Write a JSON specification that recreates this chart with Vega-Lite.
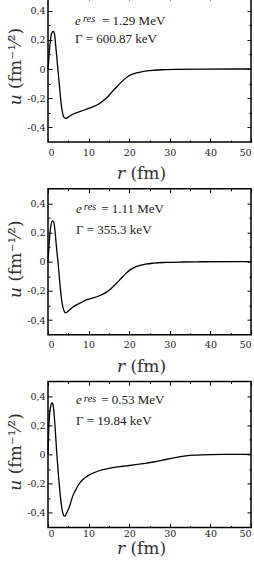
{
  "$schema": "https://vega.github.io/schema/vega-lite/v6.json",
  "padding": {"left": 5, "top": -6, "right": 0, "bottom": 0},
  "background": "white",
  "datasets": {
    "curves": [
      {"panel":1,"r":0,"u":0},{"panel":1,"r":0.25,"u":0.09},{"panel":1,"r":0.5,"u":0.175},{"panel":1,"r":0.8,"u":0.235},{"panel":1,"r":1.1,"u":0.255},{"panel":1,"r":1.35,"u":0.258},{"panel":1,"r":1.6,"u":0.24},{"panel":1,"r":1.9,"u":0.16},{"panel":1,"r":2.2,"u":0.07},{"panel":1,"r":2.5,"u":-0.02},{"panel":1,"r":2.8,"u":-0.11},{"panel":1,"r":3.1,"u":-0.2},{"panel":1,"r":3.4,"u":-0.27},{"panel":1,"r":3.7,"u":-0.315},{"panel":1,"r":4.0,"u":-0.333},{"panel":1,"r":4.4,"u":-0.338},{"panel":1,"r":4.8,"u":-0.333},{"panel":1,"r":5.5,"u":-0.32},{"panel":1,"r":6.5,"u":-0.305},{"panel":1,"r":8,"u":-0.29},{"panel":1,"r":9.5,"u":-0.275},{"panel":1,"r":11,"u":-0.26},{"panel":1,"r":12.5,"u":-0.24},{"panel":1,"r":13.5,"u":-0.22},{"panel":1,"r":14.5,"u":-0.197},{"panel":1,"r":15.5,"u":-0.165},{"panel":1,"r":16.5,"u":-0.135},{"panel":1,"r":17.5,"u":-0.105},{"panel":1,"r":18.5,"u":-0.078},{"panel":1,"r":19.5,"u":-0.055},{"panel":1,"r":20.5,"u":-0.039},{"panel":1,"r":21.5,"u":-0.029},{"panel":1,"r":23,"u":-0.019},{"panel":1,"r":25,"u":-0.011},{"panel":1,"r":28,"u":-0.005},{"panel":1,"r":32,"u":-0.002},{"panel":1,"r":38,"u":-0.0005},{"panel":1,"r":50,"u":0},
      {"panel":2,"r":0,"u":0},{"panel":2,"r":0.25,"u":0.11},{"panel":2,"r":0.5,"u":0.2},{"panel":2,"r":0.8,"u":0.26},{"panel":2,"r":1.1,"u":0.28},{"panel":2,"r":1.4,"u":0.272},{"panel":2,"r":1.7,"u":0.22},{"panel":2,"r":2.0,"u":0.125},{"panel":2,"r":2.3,"u":0.04},{"panel":2,"r":2.5,"u":-0.01},{"panel":2,"r":2.8,"u":-0.11},{"panel":2,"r":3.1,"u":-0.2},{"panel":2,"r":3.4,"u":-0.27},{"panel":2,"r":3.7,"u":-0.315},{"panel":2,"r":4.1,"u":-0.345},{"panel":2,"r":4.4,"u":-0.35},{"panel":2,"r":4.8,"u":-0.343},{"panel":2,"r":5.4,"u":-0.328},{"panel":2,"r":6.2,"u":-0.31},{"panel":2,"r":7,"u":-0.296},{"panel":2,"r":8,"u":-0.282},{"panel":2,"r":9.4,"u":-0.262},{"panel":2,"r":11,"u":-0.25},{"panel":2,"r":12.5,"u":-0.235},{"panel":2,"r":14,"u":-0.215},{"panel":2,"r":15.5,"u":-0.185},{"panel":2,"r":16.7,"u":-0.153},{"panel":2,"r":18,"u":-0.115},{"panel":2,"r":19.2,"u":-0.08},{"panel":2,"r":20.2,"u":-0.056},{"panel":2,"r":21.2,"u":-0.04},{"panel":2,"r":22.5,"u":-0.027},{"panel":2,"r":24,"u":-0.017},{"panel":2,"r":26,"u":-0.01},{"panel":2,"r":29,"u":-0.005},{"panel":2,"r":33,"u":-0.002},{"panel":2,"r":38,"u":-0.0005},{"panel":2,"r":50,"u":0},
      {"panel":3,"r":0,"u":0},{"panel":3,"r":0.16,"u":0.15},{"panel":3,"r":0.33,"u":0.25},{"panel":3,"r":0.6,"u":0.32},{"panel":3,"r":0.9,"u":0.35},{"panel":3,"r":1.1,"u":0.352},{"panel":3,"r":1.35,"u":0.32},{"panel":3,"r":1.64,"u":0.23},{"panel":3,"r":1.9,"u":0.12},{"panel":3,"r":2.13,"u":0.02},{"panel":3,"r":2.4,"u":-0.08},{"panel":3,"r":2.63,"u":-0.16},{"panel":3,"r":2.95,"u":-0.26},{"panel":3,"r":3.28,"u":-0.342},{"panel":3,"r":3.6,"u":-0.395},{"panel":3,"r":3.9,"u":-0.42},{"panel":3,"r":4.15,"u":-0.423},{"panel":3,"r":4.45,"u":-0.41},{"panel":3,"r":4.8,"u":-0.39},{"panel":3,"r":5.25,"u":-0.36},{"panel":3,"r":5.7,"u":-0.32},{"panel":3,"r":6.1,"u":-0.285},{"panel":3,"r":6.7,"u":-0.25},{"panel":3,"r":7.3,"u":-0.218},{"panel":3,"r":8.0,"u":-0.19},{"panel":3,"r":8.6,"u":-0.172},{"panel":3,"r":9.4,"u":-0.155},{"panel":3,"r":10.2,"u":-0.14},{"panel":3,"r":11.2,"u":-0.127},{"panel":3,"r":12.6,"u":-0.112},{"panel":3,"r":14,"u":-0.102},{"panel":3,"r":16,"u":-0.091},{"panel":3,"r":18,"u":-0.083},{"panel":3,"r":20,"u":-0.076},{"panel":3,"r":22,"u":-0.069},{"panel":3,"r":24,"u":-0.061},{"panel":3,"r":26,"u":-0.052},{"panel":3,"r":28,"u":-0.041},{"panel":3,"r":30,"u":-0.029},{"panel":3,"r":32,"u":-0.018},{"panel":3,"r":34,"u":-0.01},{"panel":3,"r":36,"u":-0.005},{"panel":3,"r":40,"u":-0.001},{"panel":3,"r":45,"u":0},{"panel":3,"r":50,"u":0}
    ],
    "notes": [
      {"panel":1,"line":"sym","r":6.65,"u":0.301,"t":"e"},
      {"panel":1,"line":"sup","r":8.6,"u":0.324,"t":"res"},
      {"panel":1,"line":"val","r":13.3,"u":0.301,"t":"= 1.29 MeV"},
      {"panel":1,"line":"val","r":6.65,"u":0.175,"t":"Γ = 600.87 keV"},
      {"panel":2,"line":"sym","r":6.9,"u":0.331,"t":"e"},
      {"panel":2,"line":"sup","r":8.8,"u":0.354,"t":"res"},
      {"panel":2,"line":"val","r":13.1,"u":0.331,"t":"= 1.11 MeV"},
      {"panel":2,"line":"val","r":6.9,"u":0.19,"t":"Γ = 355.3 keV"},
      {"panel":3,"line":"sym","r":6.9,"u":0.342,"t":"e"},
      {"panel":3,"line":"sup","r":8.8,"u":0.36,"t":"res"},
      {"panel":3,"line":"val","r":13.1,"u":0.342,"t":"= 0.53 MeV"},
      {"panel":3,"line":"val","r":6.9,"u":0.199,"t":"Γ = 19.84 keV"}
    ]
  },
  "config": {
    "view": {"stroke": "black", "strokeWidth": 1.5},
    "axis": {"grid": false, "domain": false, "tickColor": "black", "tickWidth": 1, "labelColor": "#222", "titleColor": "#333",
             "labelFont": "DejaVu Serif", "titleFont": "DejaVu Serif", "labelFontSize": 9.5, "titleFontSize": 17, "titleFontWeight": "normal"},
    "text": {"font": "Liberation Serif", "color": "#222"}
  },
  "vconcat": [
    {
      "width": 203, "height": 146,
      "resolve": {"axis": {"x": "independent", "y": "independent"}},
      "layer": [
        {"data": {"name": "curves"}, "transform": [{"filter": "datum.panel == 1"}],
         "mark": {"type": "line", "color": "black", "strokeWidth": 1.3, "interpolate": "monotone"},
         "encoding": {
           "x": {"field": "r", "type": "quantitative", "scale": {"domain": [0, 50], "nice": false, "zero": false},
                 "axis": {"orient": "bottom", "values": [0,10,20,30,40,50], "ticks": false, "labelPadding": 5, "labelFont": "DejaVu Serif", "labelFontSize": 9.5, "title": "𝑟 (fm)", "titleFont": "DejaVu Serif", "titleFontSize": 17, "titleFontWeight": "normal", "titlePadding": 9, "titleX": 93}},
           "y": {"field": "u", "type": "quantitative", "scale": {"domain": [-0.5, 0.5], "nice": false},
                 "axis": {"orient": "left", "values": [-0.4,-0.2,0,0.2,0.4], "ticks": false, "labelPadding": 3, "labelFont": "DejaVu Serif", "labelFontSize": 9.5, "title": "𝑢 (fm⁻¹⁄²)", "titleFont": "DejaVu Serif", "titleFontSize": 17, "titleFontWeight": "normal", "titlePadding": 2, "titleY": 70,
                          "labelExpr": "datum.value == 0 ? '0' : (datum.value < 0 ? '-' : '') + replace(format(abs(datum.value), '.1f'), '.', ',')"}}
         }},
        {"data": {"name": "curves"}, "transform": [{"filter": "datum.panel == 1"}], "mark": {"type": "line", "opacity": 0},
         "encoding": {
           "x": {"field": "r", "type": "quantitative", "axis": {"orient": "bottom", "values": [0,10,20,30,40,50], "labels": false, "tickSize": -4, "title": null}},
           "y": {"field": "u", "type": "quantitative", "axis": {"orient": "left", "values": [-0.4,-0.2,0,0.2,0.4], "labels": false, "tickSize": -4, "title": null}}
         }},
        {"data": {"name": "curves"}, "transform": [{"filter": "datum.panel == 1"}], "mark": {"type": "line", "opacity": 0},
         "encoding": {
           "x": {"field": "r", "type": "quantitative", "axis": {"orient": "top", "values": [0,10,20,30,40,50], "labels": false, "tickSize": -4, "title": null}},
           "y": {"field": "u", "type": "quantitative", "axis": {"orient": "right", "values": [-0.4,-0.2,0,0.2,0.4], "labels": false, "tickSize": -4, "title": null}}
         }},
        {"data": {"name": "curves"}, "transform": [{"filter": "datum.panel == 1"}], "mark": {"type": "line", "opacity": 0},
         "encoding": {
           "x": {"field": "r", "type": "quantitative", "axis": {"orient": "bottom", "values": [5,15,25,35,45], "labels": false, "tickSize": -2, "title": null}},
           "y": {"field": "u", "type": "quantitative", "axis": {"orient": "left", "values": [-0.3,-0.1,0.1,0.3], "labels": false, "tickSize": -2, "title": null}}
         }},
        {"data": {"name": "curves"}, "transform": [{"filter": "datum.panel == 1"}], "mark": {"type": "line", "opacity": 0},
         "encoding": {
           "x": {"field": "r", "type": "quantitative", "axis": {"orient": "top", "values": [5,15,25,35,45], "labels": false, "tickSize": -2, "title": null}},
           "y": {"field": "u", "type": "quantitative", "axis": {"orient": "right", "values": [-0.3,-0.1,0.1,0.3], "labels": false, "tickSize": -2, "title": null}}
         }},
        {"data": {"name": "notes"}, "transform": [{"filter": "datum.panel == 1 && datum.line == 'sym'"}],
         "mark": {"type": "text", "align": "left", "baseline": "alphabetic", "fontSize": 13, "fontStyle": "italic"},
         "encoding": {"x": {"field": "r", "type": "quantitative", "axis": null}, "y": {"field": "u", "type": "quantitative", "axis": null}, "text": {"field": "t"}}},
        {"data": {"name": "notes"}, "transform": [{"filter": "datum.panel == 1 && datum.line == 'sup'"}],
         "mark": {"type": "text", "align": "left", "baseline": "alphabetic", "fontSize": 10.5, "fontStyle": "italic"},
         "encoding": {"x": {"field": "r", "type": "quantitative", "axis": null}, "y": {"field": "u", "type": "quantitative", "axis": null}, "text": {"field": "t"}}},
        {"data": {"name": "notes"}, "transform": [{"filter": "datum.panel == 1 && datum.line == 'val'"}],
         "mark": {"type": "text", "align": "left", "baseline": "alphabetic", "fontSize": 13},
         "encoding": {"x": {"field": "r", "type": "quantitative", "axis": null}, "y": {"field": "u", "type": "quantitative", "axis": null}, "text": {"field": "t"}}}
      ]
    },
    {
      "width": 203, "height": 146,
      "resolve": {"axis": {"x": "independent", "y": "independent"}},
      "layer": [
        {"data": {"name": "curves"}, "transform": [{"filter": "datum.panel == 2"}],
         "mark": {"type": "line", "color": "black", "strokeWidth": 1.3, "interpolate": "monotone"},
         "encoding": {
           "x": {"field": "r", "type": "quantitative", "scale": {"domain": [0, 50], "nice": false, "zero": false},
                 "axis": {"orient": "bottom", "values": [0,10,20,30,40,50], "ticks": false, "labelPadding": 5, "labelFont": "DejaVu Serif", "labelFontSize": 9.5, "title": "𝑟 (fm)", "titleFont": "DejaVu Serif", "titleFontSize": 17, "titleFontWeight": "normal", "titlePadding": 9, "titleX": 93}},
           "y": {"field": "u", "type": "quantitative", "scale": {"domain": [-0.5, 0.5], "nice": false},
                 "axis": {"orient": "left", "values": [-0.4,-0.2,0,0.2,0.4], "ticks": false, "labelPadding": 3, "labelFont": "DejaVu Serif", "labelFontSize": 9.5, "title": "𝑢 (fm⁻¹⁄²)", "titleFont": "DejaVu Serif", "titleFontSize": 17, "titleFontWeight": "normal", "titlePadding": 2, "titleY": 70,
                          "labelExpr": "datum.value == 0 ? '0' : (datum.value < 0 ? '-' : '') + replace(format(abs(datum.value), '.1f'), '.', ',')"}}
         }},
        {"data": {"name": "curves"}, "transform": [{"filter": "datum.panel == 2"}], "mark": {"type": "line", "opacity": 0},
         "encoding": {
           "x": {"field": "r", "type": "quantitative", "axis": {"orient": "bottom", "values": [0,10,20,30,40,50], "labels": false, "tickSize": -4, "title": null}},
           "y": {"field": "u", "type": "quantitative", "axis": {"orient": "left", "values": [-0.4,-0.2,0,0.2,0.4], "labels": false, "tickSize": -4, "title": null}}
         }},
        {"data": {"name": "curves"}, "transform": [{"filter": "datum.panel == 2"}], "mark": {"type": "line", "opacity": 0},
         "encoding": {
           "x": {"field": "r", "type": "quantitative", "axis": {"orient": "top", "values": [0,10,20,30,40,50], "labels": false, "tickSize": -4, "title": null}},
           "y": {"field": "u", "type": "quantitative", "axis": {"orient": "right", "values": [-0.4,-0.2,0,0.2,0.4], "labels": false, "tickSize": -4, "title": null}}
         }},
        {"data": {"name": "curves"}, "transform": [{"filter": "datum.panel == 2"}], "mark": {"type": "line", "opacity": 0},
         "encoding": {
           "x": {"field": "r", "type": "quantitative", "axis": {"orient": "bottom", "values": [5,15,25,35,45], "labels": false, "tickSize": -2, "title": null}},
           "y": {"field": "u", "type": "quantitative", "axis": {"orient": "left", "values": [-0.3,-0.1,0.1,0.3], "labels": false, "tickSize": -2, "title": null}}
         }},
        {"data": {"name": "curves"}, "transform": [{"filter": "datum.panel == 2"}], "mark": {"type": "line", "opacity": 0},
         "encoding": {
           "x": {"field": "r", "type": "quantitative", "axis": {"orient": "top", "values": [5,15,25,35,45], "labels": false, "tickSize": -2, "title": null}},
           "y": {"field": "u", "type": "quantitative", "axis": {"orient": "right", "values": [-0.3,-0.1,0.1,0.3], "labels": false, "tickSize": -2, "title": null}}
         }},
        {"data": {"name": "notes"}, "transform": [{"filter": "datum.panel == 2 && datum.line == 'sym'"}],
         "mark": {"type": "text", "align": "left", "baseline": "alphabetic", "fontSize": 13, "fontStyle": "italic"},
         "encoding": {"x": {"field": "r", "type": "quantitative", "axis": null}, "y": {"field": "u", "type": "quantitative", "axis": null}, "text": {"field": "t"}}},
        {"data": {"name": "notes"}, "transform": [{"filter": "datum.panel == 2 && datum.line == 'sup'"}],
         "mark": {"type": "text", "align": "left", "baseline": "alphabetic", "fontSize": 10.5, "fontStyle": "italic"},
         "encoding": {"x": {"field": "r", "type": "quantitative", "axis": null}, "y": {"field": "u", "type": "quantitative", "axis": null}, "text": {"field": "t"}}},
        {"data": {"name": "notes"}, "transform": [{"filter": "datum.panel == 2 && datum.line == 'val'"}],
         "mark": {"type": "text", "align": "left", "baseline": "alphabetic", "fontSize": 13},
         "encoding": {"x": {"field": "r", "type": "quantitative", "axis": null}, "y": {"field": "u", "type": "quantitative", "axis": null}, "text": {"field": "t"}}}
      ]
    },
    {
      "width": 203, "height": 146,
      "resolve": {"axis": {"x": "independent", "y": "independent"}},
      "layer": [
        {"data": {"name": "curves"}, "transform": [{"filter": "datum.panel == 3"}],
         "mark": {"type": "line", "color": "black", "strokeWidth": 1.3, "interpolate": "monotone"},
         "encoding": {
           "x": {"field": "r", "type": "quantitative", "scale": {"domain": [0, 50], "nice": false, "zero": false},
                 "axis": {"orient": "bottom", "values": [0,10,20,30,40,50], "ticks": false, "labelPadding": 1, "labelFont": "DejaVu Serif", "labelFontSize": 9.5, "title": "𝑟 (fm)", "titleFont": "DejaVu Serif", "titleFontSize": 17, "titleFontWeight": "normal", "titlePadding": 3, "titleX": 93}},
           "y": {"field": "u", "type": "quantitative", "scale": {"domain": [-0.5, 0.5], "nice": false},
                 "axis": {"orient": "left", "values": [-0.4,-0.2,0,0.2,0.4], "ticks": false, "labelPadding": 3, "labelFont": "DejaVu Serif", "labelFontSize": 9.5, "title": "𝑢 (fm⁻¹⁄²)", "titleFont": "DejaVu Serif", "titleFontSize": 17, "titleFontWeight": "normal", "titlePadding": 2, "titleY": 70,
                          "labelExpr": "datum.value == 0 ? '0' : (datum.value < 0 ? '-' : '') + replace(format(abs(datum.value), '.1f'), '.', ',')"}}
         }},
        {"data": {"name": "curves"}, "transform": [{"filter": "datum.panel == 3"}], "mark": {"type": "line", "opacity": 0},
         "encoding": {
           "x": {"field": "r", "type": "quantitative", "axis": {"orient": "bottom", "values": [0,10,20,30,40,50], "labels": false, "tickSize": -4, "title": null}},
           "y": {"field": "u", "type": "quantitative", "axis": {"orient": "left", "values": [-0.4,-0.2,0,0.2,0.4], "labels": false, "tickSize": -4, "title": null}}
         }},
        {"data": {"name": "curves"}, "transform": [{"filter": "datum.panel == 3"}], "mark": {"type": "line", "opacity": 0},
         "encoding": {
           "x": {"field": "r", "type": "quantitative", "axis": {"orient": "top", "values": [0,10,20,30,40,50], "labels": false, "tickSize": -4, "title": null}},
           "y": {"field": "u", "type": "quantitative", "axis": {"orient": "right", "values": [-0.4,-0.2,0,0.2,0.4], "labels": false, "tickSize": -4, "title": null}}
         }},
        {"data": {"name": "curves"}, "transform": [{"filter": "datum.panel == 3"}], "mark": {"type": "line", "opacity": 0},
         "encoding": {
           "x": {"field": "r", "type": "quantitative", "axis": {"orient": "bottom", "values": [5,15,25,35,45], "labels": false, "tickSize": -2, "title": null}},
           "y": {"field": "u", "type": "quantitative", "axis": {"orient": "left", "values": [-0.3,-0.1,0.1,0.3], "labels": false, "tickSize": -2, "title": null}}
         }},
        {"data": {"name": "curves"}, "transform": [{"filter": "datum.panel == 3"}], "mark": {"type": "line", "opacity": 0},
         "encoding": {
           "x": {"field": "r", "type": "quantitative", "axis": {"orient": "top", "values": [5,15,25,35,45], "labels": false, "tickSize": -2, "title": null}},
           "y": {"field": "u", "type": "quantitative", "axis": {"orient": "right", "values": [-0.3,-0.1,0.1,0.3], "labels": false, "tickSize": -2, "title": null}}
         }},
        {"data": {"name": "notes"}, "transform": [{"filter": "datum.panel == 3 && datum.line == 'sym'"}],
         "mark": {"type": "text", "align": "left", "baseline": "alphabetic", "fontSize": 13, "fontStyle": "italic"},
         "encoding": {"x": {"field": "r", "type": "quantitative", "axis": null}, "y": {"field": "u", "type": "quantitative", "axis": null}, "text": {"field": "t"}}},
        {"data": {"name": "notes"}, "transform": [{"filter": "datum.panel == 3 && datum.line == 'sup'"}],
         "mark": {"type": "text", "align": "left", "baseline": "alphabetic", "fontSize": 10.5, "fontStyle": "italic"},
         "encoding": {"x": {"field": "r", "type": "quantitative", "axis": null}, "y": {"field": "u", "type": "quantitative", "axis": null}, "text": {"field": "t"}}},
        {"data": {"name": "notes"}, "transform": [{"filter": "datum.panel == 3 && datum.line == 'val'"}],
         "mark": {"type": "text", "align": "left", "baseline": "alphabetic", "fontSize": 13},
         "encoding": {"x": {"field": "r", "type": "quantitative", "axis": null}, "y": {"field": "u", "type": "quantitative", "axis": null}, "text": {"field": "t"}}}
      ]
    }
  ],
  "spacing": 46.7,
  "bounds": "flush"
}
